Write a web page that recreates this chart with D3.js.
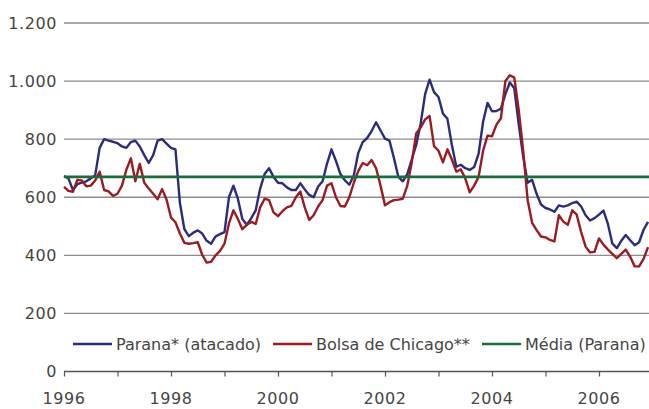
<!DOCTYPE html>
<html>
<head>
<meta charset="utf-8">
<script src="https://cdn.jsdelivr.net/npm/d3@7"></script>
<style>
  body { margin: 0; background: #fff; }
  svg text { font-family: "DejaVu Sans", sans-serif; fill: #454545; }
</style>
</head>
<body>
<div id="chart"></div>
<script>
// monthly series, Jan 1996 .. Dec 2006
const startYear = 1996;
const parana = [
  673, 665, 625, 645, 650, 655, 665, 676, 770, 800, 795, 791,
  786, 775, 770, 790, 795, 775, 745, 718, 745, 795, 800, 785,
  770, 765, 580, 490, 466, 478, 486, 475, 450, 440, 465, 473,
  480, 600, 640, 595, 525, 505, 528, 555, 630, 680, 700, 670,
  650, 648, 634, 625, 625, 648, 627, 608, 600, 637, 655, 716,
  765, 725, 680, 658, 643, 675, 752, 790, 804, 828, 858, 830,
  802, 795, 735, 670, 655, 680, 730, 780, 854, 955, 1005, 962,
  945, 888, 870, 780, 705, 712, 700, 694, 704, 750, 860, 925,
  896, 897, 905, 955, 995, 975, 850, 740, 650, 660, 612, 575,
  563, 558, 550, 572, 568, 572, 580, 585, 568, 538, 520, 528,
  540, 554, 508, 440, 425, 450, 470, 452, 435, 445, 488, 515
];
const chicago = [
  636, 622, 619, 660, 658, 638, 640, 658, 688, 625, 620, 605,
  612, 640, 695, 734, 655, 715, 650, 630, 612, 593, 628, 592,
  530, 514, 475, 443, 440, 442, 445, 402, 375, 378, 400, 415,
  440, 510, 555, 525, 490, 505, 515, 508, 565, 595, 590, 548,
  535, 552, 565, 570, 600, 620, 565, 522, 538, 568, 590, 640,
  648, 600, 570, 568, 600, 650, 690, 718, 710, 728, 700, 640,
  572, 583, 590, 592, 595, 640, 720, 820, 840, 868, 880, 776,
  760, 720, 765, 730, 688, 696, 665, 617, 640, 670, 760, 812,
  810, 850, 872, 1000, 1020, 1012, 900, 760, 590, 512, 487, 465,
  462, 453, 448, 538, 516, 505, 555, 540, 480, 430, 410, 412,
  458, 437, 420, 405, 390, 405, 420, 395, 362, 362, 388, 428
];
const mediaParana = 670;
const yTicks = [0, 200, 400, 600, 800, 1000, 1200];
const xTickYears = d3.range(1996, 2008);
const xLabelYears = [1996, 1998, 2000, 2002, 2004, 2006];
const seriesNames = ['Parana* (atacado)', 'Bolsa de Chicago**', 'Média (Parana)'];
const seriesColors = ['#2a2c7c', '#9a1c22', '#1d6b3a'];

const width = 649, height = 409;
const svg = d3.select('#chart').append('svg')
  .attr('width', width).attr('height', height);

const x = d3.scaleLinear().domain([1996, 2007]).range([64, 652.5]);
const y = d3.scaleLinear().domain([0, 1200]).range([371.5, 23]);
const fmt = d3.formatLocale({ decimal: ',', thousands: '.', grouping: [3], currency: ['', ''] }).format(',d');

// gridlines
svg.append('g').selectAll('line')
  .data(yTicks.filter(d => d > 0))
  .enter().append('line')
  .attr('x1', 64).attr('x2', width)
  .attr('y1', d => y(d)).attr('y2', d => y(d))
  .attr('stroke', '#8c8c8c').attr('stroke-width', 1.4);

// y labels
svg.append('g').selectAll('text')
  .data(yTicks)
  .enter().append('text')
  .attr('x', 57).attr('y', d => y(d)).attr('dy', '0.36em')
  .attr('text-anchor', 'end')
  .style('font-size', '16px')
  .style('letter-spacing', '0.6px')
  .text(d => fmt(d));

// x axis
const xAxis = svg.append('g')
  .attr('transform', `translate(0,${y(0)})`)
  .call(d3.axisBottom(x).tickValues(xTickYears).tickSize(5).tickFormat(''));
xAxis.select('.domain').attr('stroke', '#555').attr('stroke-width', 1.4).attr('d', `M64,0H${width}`);
xAxis.selectAll('.tick line').attr('stroke', '#555').attr('stroke-width', 1.2);

svg.append('g').selectAll('text')
  .data(xLabelYears)
  .enter().append('text')
  .attr('x', d => x(d)).attr('y', 404)
  .attr('text-anchor', 'middle')
  .style('font-size', '16px')
  .style('letter-spacing', '0.6px')
  .text(d => d);

// lines
const line = d3.line()
  .x((d, i) => x(startYear + i / 12))
  .y(d => y(d));

svg.append('path').datum(parana)
  .attr('d', line).attr('fill', 'none')
  .attr('stroke', seriesColors[0]).attr('stroke-width', 2.4)
  .attr('stroke-linejoin', 'round');
svg.append('path').datum(chicago)
  .attr('d', line).attr('fill', 'none')
  .attr('stroke', seriesColors[1]).attr('stroke-width', 2.4)
  .attr('stroke-linejoin', 'round');
svg.append('line')
  .attr('x1', 64).attr('x2', width)
  .attr('y1', y(mediaParana)).attr('y2', y(mediaParana))
  .attr('stroke', seriesColors[2]).attr('stroke-width', 2.6);

// legend
const legendX = [73, 273, 482];
const leg = svg.append('g').selectAll('g')
  .data(seriesNames)
  .enter().append('g')
  .attr('transform', (d, i) => `translate(${legendX[i]},344)`);
leg.append('line')
  .attr('x1', 0).attr('x2', 39)
  .attr('stroke', (d, i) => seriesColors[i]).attr('stroke-width', 2.6);
leg.append('text')
  .attr('x', 43).attr('dy', '0.36em')
  .style('font-size', '16px')
  .text(d => d);
</script>
</body>
</html>
